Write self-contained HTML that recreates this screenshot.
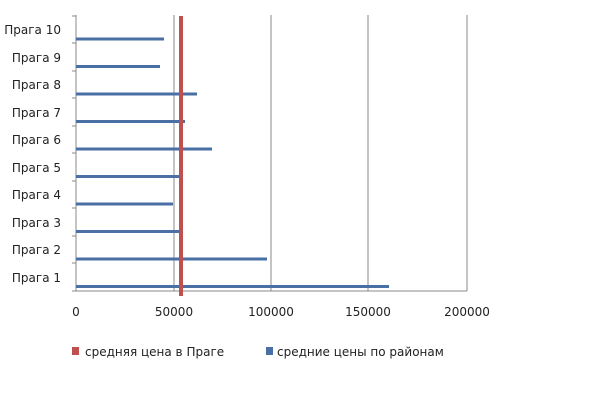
<!DOCTYPE html>
<html><head><meta charset="utf-8"><style>
body{margin:0;background:#fff;width:600px;height:400px;overflow:hidden}
svg{font-family:"DejaVu Sans","Liberation Sans",sans-serif}
</style></head><body>
<svg width="600" height="400" xmlns="http://www.w3.org/2000/svg">
<g stroke="#888" stroke-width="1">
<line x1="174" y1="15" x2="174" y2="291"/>
<line x1="271" y1="15" x2="271" y2="291"/>
<line x1="368" y1="15" x2="368" y2="291"/>
<line x1="467" y1="15" x2="467" y2="291"/>
<line x1="76" y1="15" x2="76" y2="291"/>
<line x1="76" y1="291" x2="467" y2="291"/>
<line x1="72" y1="16" x2="76" y2="16"/><line x1="72" y1="43" x2="76" y2="43"/>
<line x1="72" y1="71" x2="76" y2="71"/><line x1="72" y1="98" x2="76" y2="98"/>
<line x1="72" y1="126" x2="76" y2="126"/><line x1="72" y1="153" x2="76" y2="153"/>
<line x1="72" y1="181" x2="76" y2="181"/><line x1="72" y1="208" x2="76" y2="208"/>
<line x1="72" y1="236" x2="76" y2="236"/><line x1="72" y1="263" x2="76" y2="263"/>
<line x1="72" y1="291" x2="76" y2="291"/>
</g>
<g fill="#4a6fa5">
<rect x="76" y="37.5" width="88" height="3"/>
<rect x="76" y="65" width="84" height="3"/>
<rect x="76" y="92.5" width="121" height="3"/>
<rect x="76" y="120" width="109" height="3"/>
<rect x="76" y="147.5" width="136" height="3"/>
<rect x="76" y="175" width="104" height="3"/>
<rect x="76" y="202.5" width="97" height="3"/>
<rect x="76" y="230" width="107" height="3"/>
<rect x="76" y="257.5" width="191" height="3"/>
<rect x="76" y="285" width="313" height="3"/>
</g>
<rect x="179" y="16" width="4" height="280" fill="#c0504d"/>
<g font-size="12" fill="#222" text-anchor="end">
<text x="61" y="34">Прага 10</text>
<text x="61" y="62">Прага 9</text>
<text x="61" y="89">Прага 8</text>
<text x="61" y="117">Прага 7</text>
<text x="61" y="144">Прага 6</text>
<text x="61" y="172">Прага 5</text>
<text x="61" y="199">Прага 4</text>
<text x="61" y="227">Прага 3</text>
<text x="61" y="254">Прага 2</text>
<text x="61" y="282">Прага 1</text>
</g>
<g font-size="12" fill="#222" text-anchor="middle">
<text x="76" y="316">0</text>
<text x="174" y="316">50000</text>
<text x="271" y="316">100000</text>
<text x="368" y="316">150000</text>
<text x="467" y="316">200000</text>
</g>
<rect x="72" y="347" width="7" height="8" fill="#c0504d"/>
<text x="85" y="356" font-size="12" fill="#222">средняя цена в Праге</text>
<rect x="266" y="347" width="7" height="8" fill="#4a6fa5"/>
<text x="277" y="356" font-size="12" fill="#222">средние цены по районам</text>
</svg>
</body></html>
